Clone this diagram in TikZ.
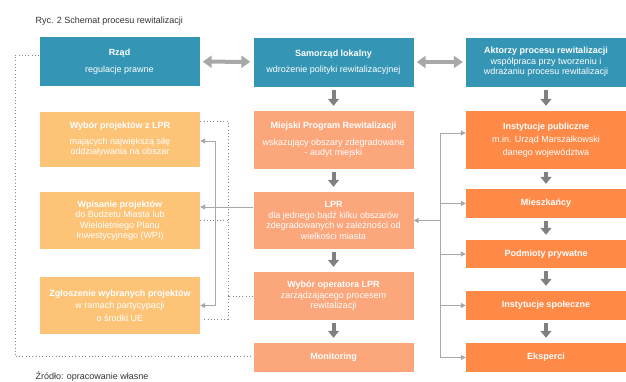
\documentclass[tikz,border=0pt]{standalone}
\usepackage{fontspec}
\setmainfont{Liberation Sans}
\usetikzlibrary{arrows.meta}

\definecolor{rtTeal}{RGB}{52,150,180}
\definecolor{rtYellow}{RGB}{253,196,120}
\definecolor{rtSalmon}{RGB}{252,166,124}
\definecolor{rtOrange}{RGB}{255,138,72}
\definecolor{rtGrey}{RGB}{128,128,128}
\definecolor{rtLight}{RGB}{168,168,168}
\definecolor{rtDots}{RGB}{135,135,135}

\tikzset{
    blok/.style={rectangle, inner sep=0pt, text=white, align=center, minimum width=160pt, font=\fontsize{9}{10.5}\selectfont},
    gornybox/.style={blok, fill=rtTeal, minimum height=49pt},
    lewybox/.style={blok, fill=rtYellow},
    srodekbox/.style={blok, fill=rtSalmon},
    prawybox/.style={blok, fill=rtOrange},
    strzalka/.style={-{Triangle[width=11pt,length=7pt]}, line width=4pt, draw=rtGrey, shorten <=3pt, shorten >=5pt},
    dwustronna/.style={{Triangle[width=12pt,length=9pt]}-{Triangle[width=12pt,length=9pt]}, line width=4pt, draw=rtLight, shorten <=3pt, shorten >=3pt},
    linia/.style={-{Triangle[width=5pt,length=5pt]}, line width=1pt, draw=rtLight},
    kropki/.style={draw=rtDots, line width=1pt, dash pattern=on 1pt off 2.3pt}
}

\begin{document}
\begin{tikzpicture}[x=1pt, y=-1pt]
    \useasboundingbox (0,0) rectangle (626,381);

    \node[anchor=base west, text=black!80, font=\fontsize{9}{10.5}\selectfont] (tytul) at (32,23) {Ryc. 2 Schemat procesu rewitalizacji};
    \node[anchor=base west, text=black!80, font=\fontsize{9}{10.5}\selectfont] (zrodlo) at (32,379) {Źródło: opracowanie własne};

    \node[gornybox] (rzad) at (119.5,61.5) {\textbf{Rząd}\\[6pt]regulacje prawne};
    \node[gornybox] (samorzad) at (333.5,62) {\textbf{Samorząd lokalny}\\[6pt]wdrożenie polityki rewitalizacyjnej};
    \node[gornybox] (aktorzy) at (546,62) {\textbf{Aktorzy procesu rewitalizacji}\\współpraca przy tworzeniu i\\wdrażaniu procesu rewitalizacji};

    \node[lewybox, minimum height=55pt] (wybor) at (120,139.5) {\textbf{Wybór projektów z LPR}\\[5pt]mających największą siłę\\oddziaływania na obszar};
    \node[lewybox, minimum height=57pt] (wpisanie) at (120,220.5) {\textbf{Wpisanie projektów}\\do Budżetu Miasta lub\\Wieloletniego Planu\\Inwestycyjnego (WPI)};
    \node[lewybox, minimum height=57pt] (zgloszenie) at (120,305.5) {\textbf{Zgłoszenie wybranych projektów}\\[2pt]w ramach partycypacji\\[2pt]o środki UE};

    \node[srodekbox, minimum height=58pt] (miejski) at (333.5,140) {\textbf{Miejski Program Rewitalizacji}\\[6pt]wskazujący obszary zdegradowane\\- audyt miejski};
    \node[srodekbox, minimum height=57pt] (lpr) at (333.5,220.5) {\textbf{LPR}\\dla jednego bądź kilku obszarów\\zdegradowanych w zależności od\\wielkości miasta};
    \node[srodekbox, minimum height=48pt] (operator) at (333.5,296) {\textbf{Wybór operatora LPR}\\zarządzającego procesem\\rewitalizacji};
    \node[srodekbox, minimum height=29pt] (monitoring) at (333.5,357.5) {\textbf{Monitoring}};

    \node[prawybox, minimum height=58pt] (publiczne) at (546,140) {\textbf{Instytucje publiczne}\\[3pt]m.in. Urząd Marszałkowski\\[2pt]danego województwa};
    \node[prawybox, minimum height=29pt] (mieszkancy) at (546,203.5) {\textbf{Mieszkańcy}};
    \node[prawybox, minimum height=28pt] (podmioty) at (546,254) {\textbf{Podmioty prywatne}};
    \node[prawybox, minimum height=29pt] (spoleczne) at (546,305.5) {\textbf{Instytucje społeczne}};
    \node[prawybox, minimum height=29pt] (eksperci) at (546,357.5) {\textbf{Eksperci}};

    % wspolpraca
    \draw[dwustronna] (rzad) -- (samorzad);
    \draw[dwustronna] (samorzad) -- (aktorzy);

    % kolejne etapy
    \foreach \a/\b in {samorzad/miejski, miejski/lpr, lpr/operator, operator/monitoring,
                       aktorzy/publiczne, publiczne/mieszkancy, mieszkancy/podmioty, podmioty/spoleczne, spoleczne/eksperci}
        \draw[strzalka] (\a.south) -- (\b.north);

    % aktorzy -> LPR
    \coordinate (prawa) at (440,220.5);
    \coordinate (pubwej) at ([yshift=7pt]publiczne.west);
    \draw[line width=1pt, draw=rtLight] (pubwej -| prawa) -- (eksperci.west -| prawa);
    \draw[linia] (prawa) -- (lpr.east);
    \draw[linia] (pubwej -| prawa) -- (pubwej);
    \foreach \n in {mieszkancy, podmioty, spoleczne, eksperci}
        \draw[linia] (\n.west -| prawa) -- (\n.west);

    % LPR -> projekty
    \coordinate (lprwyj) at ([yshift=13.5pt]lpr.west);
    \coordinate (lewa) at (215,207);
    \draw[linia] (lprwyj) -- (lprwyj -| wpisanie.east);
    \draw[linia] (lewa) |- ([yshift=-1.5pt]wybor.east);
    \draw[linia] (lewa) |- (zgloszenie.east);

    % projekty -> operator
    \coordinate (kropk) at (228,296);
    \draw[kropki] (operator.west) -- (kropk);
    \draw[kropki] ([yshift=18.5pt]wybor.east) -| (kropk);
    \draw[kropki] ([xshift=4pt,yshift=-13.5pt]zgloszenie.east) -| (kropk);
    \draw[kropki] (wpisanie.east) -- (wpisanie.east -| kropk);

    % rzad -> monitoring
    \coordinate (zewn) at (15,356.5);
    \draw[kropki] ([yshift=6.5pt]rzad.west) -| (zewn) -- (zewn -| monitoring.west);
\end{tikzpicture}
\end{document}
